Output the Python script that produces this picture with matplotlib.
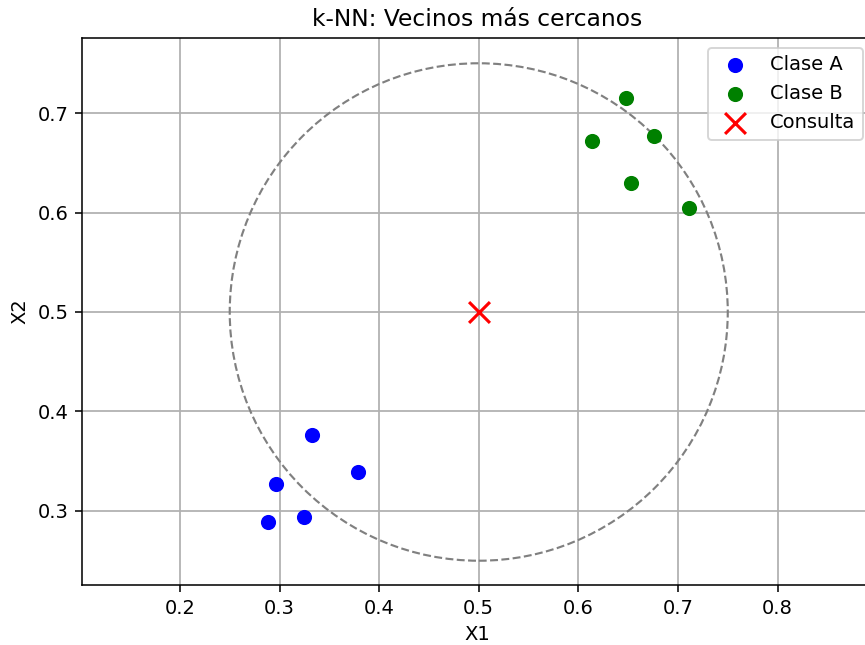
import numpy as np
import matplotlib
matplotlib.use("Agg")
import matplotlib.pyplot as plt

class_a_x = [0.2963, 0.2883, 0.3244, 0.3324, 0.3785]
class_a_y = [0.3271, 0.2890, 0.2940, 0.3764, 0.3392]
class_b_x = [0.6483, 0.6132, 0.6764, 0.6533, 0.7115]
class_b_y = [0.7150, 0.6719, 0.6769, 0.6296, 0.6045]
query = (0.5, 0.5)
radius = 0.25

W, H, DPI = 865, 645, 140
fig = plt.figure(figsize=(W / DPI, H / DPI), dpi=DPI)
ax = fig.add_axes([82 / W, 1 - 585 / H, 791 / W, 547 / H])

ax.scatter(class_a_x, class_a_y, c="blue", s=46, label="Clase A", zorder=3)
ax.scatter(class_b_x, class_b_y, c="green", s=46, label="Clase B", zorder=3)
ax.scatter([query[0]], [query[1]], c="red", marker="x", s=115, linewidths=1.6,
           label="Consulta", zorder=3)
circle = plt.Circle(query, radius, fill=False, color="gray", linestyle="--",
                    linewidth=1.1)
ax.add_patch(circle)

ax.set_xlim(0.1017, 0.8958)
ax.set_ylim(0.2256, 0.7754)
ax.set_xticks([0.2, 0.3, 0.4, 0.5, 0.6, 0.7, 0.8])
ax.set_yticks([0.3, 0.4, 0.5, 0.6, 0.7])
ax.grid(True, color="#b0b0b0", linewidth=0.9)
ax.set_axisbelow(True)
ax.set_xlabel("X1")
ax.set_ylabel("X2")
ax.set_title("k-NN: Vecinos más cercanos")
ax.legend(loc="upper right")

fig.savefig("out.png", dpi=DPI)
